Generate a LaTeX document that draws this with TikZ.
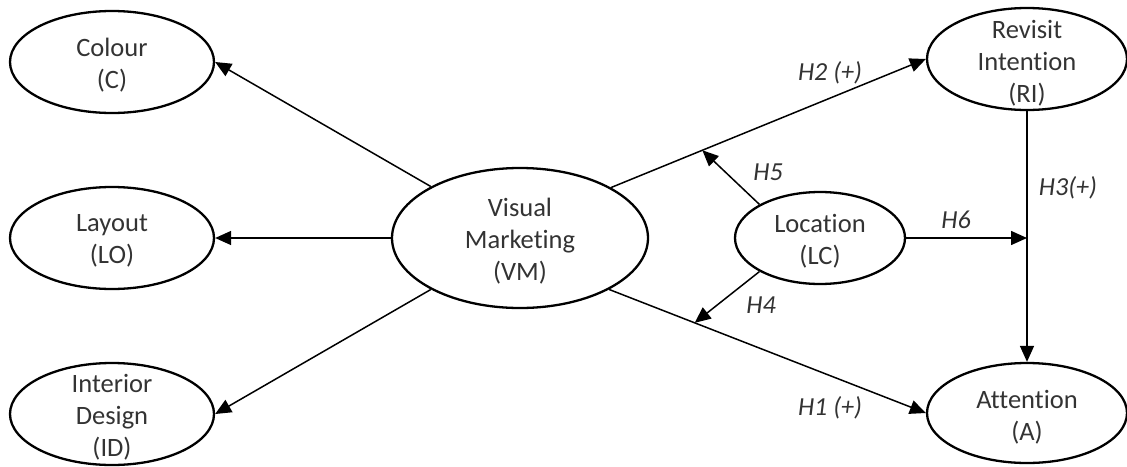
\documentclass[tikz,border=0pt]{standalone}
\usepackage{fontspec}
\setmainfont{Carlito}[Ligatures=NoCommon]
\usetikzlibrary{shapes.geometric,arrows.meta,calc}
\definecolor{txtgray}{gray}{0.2}
\tikzset{
  oval/.style={draw=black, ellipse, line width=2.3pt, inner sep=0pt},
  ovaltext/.style={align=center, text=txtgray, inner sep=0pt, font=\fontsize{26.5}{32}\selectfont},
  hyp/.style={text=txtgray, inner sep=0pt, font=\fontsize{26}{30}\selectfont\itshape},
  arr/.style={draw=black, line width=1.5pt, -{Triangle[length=16pt,width=14pt]}},
}
\begin{document}
\begin{tikzpicture}[x=1pt,y=-1pt]
\useasboundingbox (0,0) rectangle (1127,466);
% ellipses
\node[oval, minimum width=204pt, minimum height=102pt] (C)  at (112,62)  {};
\node[oval, minimum width=204pt, minimum height=102pt] (LO) at (112,238) {};
\node[oval, minimum width=204pt, minimum height=102pt] (ID) at (112,414) {};
\node[oval, minimum width=256pt, minimum height=140pt] (VM) at (520,238) {};
\node[oval, minimum width=170pt, minimum height=92pt]  (LC) at (820,238) {};
\node[oval, minimum width=200pt, minimum height=102pt] (RI) at (1027,59) {};
\node[oval, minimum width=200pt, minimum height=100pt] (A)  at (1027,413) {};
% texts
\node[ovaltext] (Ct)  at (112,65)  {Colour\\(C)};
\node[ovaltext] (LOt) at (112,241) {Layout\\(LO)};
\node[ovaltext] (IDt) at (112,417) {Interior\\Design\\(ID)};
\node[ovaltext] (VMt) at (520,241) {Visual\\Marketing\\(VM)};
\node[ovaltext] (LCt) at (820,241) {Location\\(LC)};
\node[ovaltext] (RIt) at (1027,63) {Revisit\\Intention\\(RI)};
\node[ovaltext] (At)  at (1027,417) {Attention\\(A)};
% connectors
\draw[arr] (VM.150) -- (C.east);
\draw[arr] (VM.west) -- (LO.east);
\draw[arr] (VM.210) -- (ID.east);
\draw[arr] (VM.29) -- (RI.west);
\draw[arr] (VM.-30) -- (A.west);
\draw[arr] (RI.south) -- (A.north);
\coordinate (p5) at ($(VM.29)!0.29!(RI.west)$);
\coordinate (p4) at ($(VM.-30)!0.27!(A.west)$);
\coordinate (p6) at (RI.south |- LC.east);
\draw[arr] (LC.151) -- (p5);
\draw[arr] (LC.209) -- (p4);
\draw[arr] (LC.east) -- (p6);
% hypothesis labels
\node[hyp] (h2) at (830,73)  {H2 (+)};
\node[hyp] (h1) at (830,408) {H1 (+)};
\node[hyp] (h5) at (768,172) {H5};
\node[hyp] (h4) at (761,305) {H4};
\node[hyp] (h6) at (956,220) {H6};
\node[hyp] (h3) at (1068,188) {H3(+)};
\end{tikzpicture}
\end{document}
